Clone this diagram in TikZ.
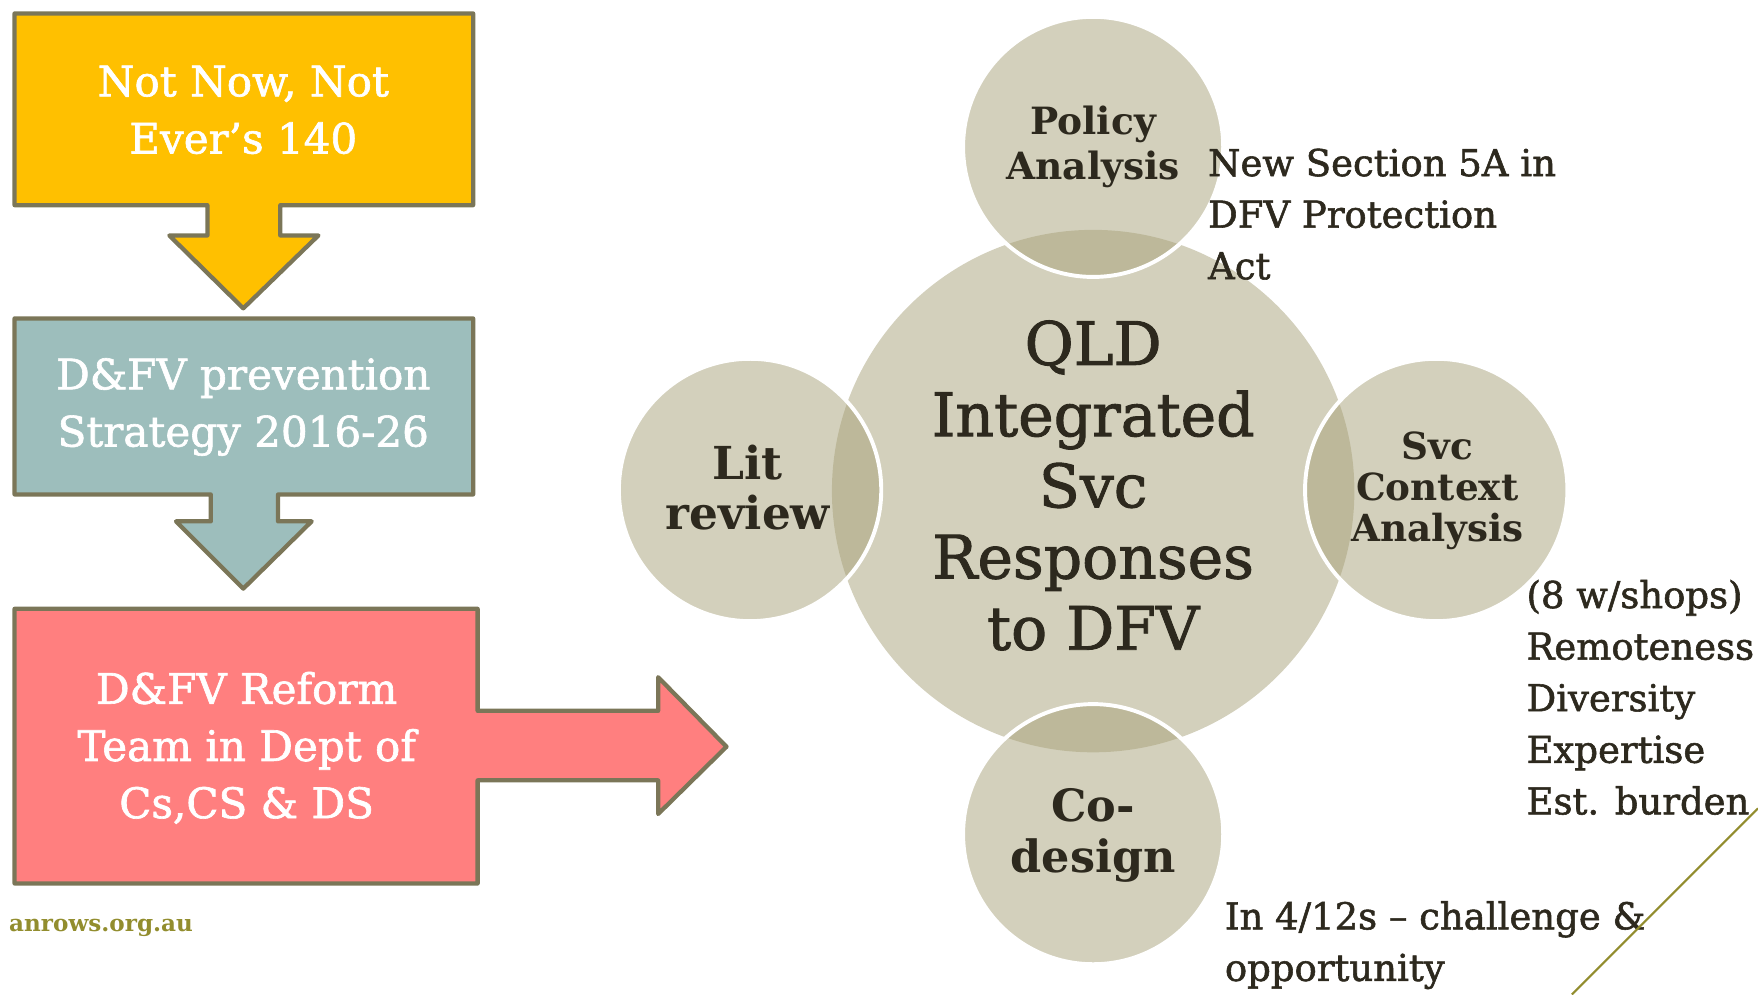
\documentclass[tikz,border=0pt]{standalone}
\usepackage{fontspec}
\setmainfont{DejaVu Serif}
\newfontfamily\semi{DejaVu Serif}[FakeBold=1.5]
\definecolor{boxline}{RGB}{123,118,88}
\definecolor{ybox}{RGB}{255,192,0}
\definecolor{tbox}{RGB}{157,190,188}
\definecolor{rbox}{RGB}{255,127,127}
\definecolor{circ}{RGB}{167,161,121}
\definecolor{ink}{RGB}{45,41,30}
\definecolor{olive}{RGB}{146,141,46}
\tikzset{
  flowbox/.style={draw=boxline, line width=3.8pt, line join=round},
  boxtext/.style={text=white, align=center, font=\semi\fontsize{37.5}{51}\selectfont},
  bubble/.style={fill=circ, fill opacity=0.5, draw=white, line width=3.5pt},
  bigbubble/.style={fill=circ, fill opacity=0.5},
  bubtext/.style={text=ink, align=center, font=\bfseries\fontsize{33.5}{40}\selectfont},
  note/.style={text=ink, align=left, anchor=west, font=\semi\fontsize{33}{46}\selectfont},
}
\begin{document}
\begin{tikzpicture}[x=1pt,y=-1pt]
\useasboundingbox (0,0) rectangle (1568,887);
% left flow
\draw[flowbox, fill=ybox] (13,12) -- (422,12) -- (422,183) -- (250,183) -- (250,210) -- (284,210) -- (217,275) -- (151,210) -- (185,210) -- (185,183) -- (13,183) -- cycle;
\draw[flowbox, fill=tbox] (13,284) -- (422,284) -- (422,441) -- (248,441) -- (248,465) -- (278,465) -- (217,525) -- (157,465) -- (188,465) -- (188,441) -- (13,441) -- cycle;
\draw[flowbox, fill=rbox] (13,543) -- (426,543) -- (426,634) -- (587,634) -- (587,604) -- (648,666) -- (587,726) -- (587,696) -- (426,696) -- (426,788) -- (13,788) -- cycle;
\node[boxtext] (t1) at (217,98) {Not Now, Not\\Ever’s 140};
\node[boxtext] (t2) at (217,363) {D\&FV prevention\\Strategy 2016-26};
\node[boxtext] (t3) at (220,667) {D\&FV Reform\\Team in Dept of\\Cs,CS \& DS};
\node[anchor=base west, inner sep=0pt, text=olive, font=\bfseries\fontsize{20.6}{24}\selectfont] (web) at (8,831) {anrows.org.au};
% circles
\fill[bigbubble] (975,438) circle[radius=233];
\path[bubble] (975,131) circle[radius=116];
\path[bubble] (669,437) circle[radius=117];
\path[bubble] (1281,437) circle[radius=117];
\path[bubble] (975,744) circle[radius=116];
\node[text=ink, align=center, font=\semi\fontsize{53.5}{63.5}\selectfont] (core) at (975,433) {QLD\\Integrated\\Svc\\Responses\\to DFV};
\node[bubtext] (pol) at (975,131) {Policy\\Analysis};
\node[bubtext, font=\bfseries\fontsize{40.5}{45}\selectfont] (lit) at (667,435) {Lit\\review};
\node[bubtext, font=\bfseries\fontsize{33.3}{36.5}\selectfont] (svc) at (1282,438) {Svc\\Context\\Analysis};
\node[bubtext, font=\bfseries\fontsize{39.7}{45}\selectfont] (cod) at (975,745) {Co-\\design};
% notes
\node[note] (n1) at (1074,191) {New Section 5A in\\DFV Protection\\Act};
\node[note] (n2) at (1358,622) {(8 w/shops)\\Remoteness\\Diversity\\Expertise\\Est. burden};
\node[note] (n3) at (1089,843) {In 4/12s – challenge \&\\opportunity};
\coordinate (d1) at (1402,887);
\coordinate (d2) at (1568,721);
\draw[olive, line width=1.8pt] (d1) -- (d2);
\end{tikzpicture}
\end{document}
